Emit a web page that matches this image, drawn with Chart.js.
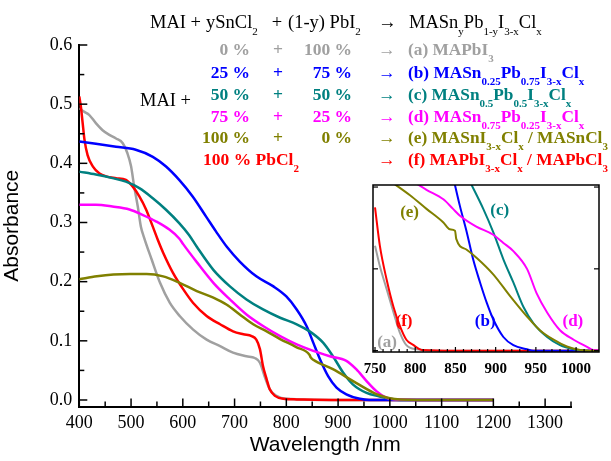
<!DOCTYPE html>
<html>
<head>
<meta charset="utf-8">
<script src="https://cdn.jsdelivr.net/npm/chart.js@4.4.0/dist/chart.umd.min.js"></script>
<style>
  html, body { margin: 0; padding: 0; background: #fff; }
  #wrap { position: relative; width: 611px; height: 461px; }
  #mainBox { position: absolute; left: 0; top: 0; width: 611px; height: 461px; }
  #insetBox { position: absolute; left: 363px; top: 175px; width: 248px; height: 205px; }
</style>
</head>
<body>
<div id="wrap">
  <div id="mainBox"><canvas id="main" width="611" height="461"></canvas></div>
  <div id="insetBox"><canvas id="inset" width="248" height="205"></canvas></div>
</div>
<script>
// --- axis ticks ---
const xTicks = [400, 500, 600, 700, 800, 900, 1000, 1100, 1200, 1300];
const yTicks = [0, 0.1, 0.2, 0.3, 0.4, 0.5, 0.6];
const insetXTicks = [750, 800, 850, 900, 950, 1000];
const insetYTicks = [0, 0.06, 0.12];

// --- main spectra (wavelength nm / absorbance) ---
const wlA  = [400, 410, 419, 432, 445, 458, 471, 484, 493, 500, 506, 513, 519, 525, 540, 556, 575, 594, 620, 646, 672, 697, 723, 739, 749, 758, 768, 781, 800, 900, 1000, 1100, 1200];
const absA = [0.493, 0.487, 0.482, 0.468, 0.456, 0.448, 0.442, 0.434, 0.417, 0.395, 0.361, 0.327, 0.293, 0.275, 0.237, 0.198, 0.164, 0.142, 0.119, 0.102, 0.091, 0.080, 0.074, 0.071, 0.063, 0.040, 0.018, 0.007, 0.002, 0, 0, 0, 0];

const wlB  = [400, 432, 471, 509, 542, 567, 593, 619, 645, 664, 685, 710, 742, 775, 800, 820, 839, 852, 865, 881, 897, 916, 942, 960, 1000, 1100, 1200];
const absB = [0.437, 0.433, 0.428, 0.423, 0.411, 0.395, 0.372, 0.344, 0.310, 0.285, 0.259, 0.234, 0.209, 0.192, 0.175, 0.153, 0.125, 0.097, 0.069, 0.040, 0.021, 0.0096, 0.002, 0, 0, 0, 0];

const wlC  = [400, 432, 464, 490, 516, 542, 567, 593, 612, 627, 659, 691, 723, 755, 788, 820, 845, 871, 890, 910, 929, 955, 980, 1000, 1020, 1100, 1200];
const absC = [0.386, 0.381, 0.375, 0.369, 0.358, 0.341, 0.322, 0.299, 0.279, 0.259, 0.220, 0.192, 0.170, 0.153, 0.139, 0.128, 0.116, 0.097, 0.074, 0.046, 0.026, 0.012, 0.006, 0.002, 0, 0, 0];

const wlD  = [400, 432, 464, 497, 522, 548, 574, 593, 601, 627, 659, 691, 723, 755, 788, 820, 852, 884, 916, 935, 955, 974, 993, 1013, 1100, 1200];
const absD = [0.330, 0.330, 0.327, 0.322, 0.313, 0.302, 0.288, 0.273, 0.263, 0.233, 0.198, 0.170, 0.1445, 0.125, 0.108, 0.094, 0.083, 0.074, 0.066, 0.052, 0.032, 0.015, 0.004, 0.001, 0, 0];

const wlE  = [400, 434, 466, 498, 530, 562, 594, 627, 659, 685, 710, 736, 762, 788, 820, 845, 847, 852, 890, 929, 968, 980, 1000, 1020, 1100, 1200];
const absE = [0.204, 0.209, 0.212, 0.213, 0.213, 0.209, 0.198, 0.184, 0.173, 0.161, 0.1445, 0.128, 0.116, 0.103, 0.089, 0.076, 0.072, 0.068, 0.052, 0.032, 0.0125, 0.008, 0.003, 0.001, 0, 0];

const wlF  = [400, 403, 406.5, 410, 416, 426, 439, 452, 471, 490, 503, 516, 529, 542, 552, 562, 581, 601, 620, 646, 672, 697, 717, 733, 742, 749, 755, 762, 768, 778, 794, 820, 900, 1000, 1100, 1200];
const absF = [0.513, 0.496, 0.468, 0.440, 0.414, 0.395, 0.383, 0.378, 0.375, 0.372, 0.361, 0.344, 0.322, 0.293, 0.270, 0.249, 0.215, 0.187, 0.164, 0.142, 0.128, 0.116, 0.111, 0.108, 0.102, 0.086, 0.057, 0.035, 0.018, 0.007, 0.002, 0.001, 0, 0, 0, 0];

// --- inset (band edge zoom) ---
const inWlA  = [750, 756, 764.5, 773, 781, 789, 802, 830, 1030];
const inAbsA = [0.077, 0.062, 0.045, 0.028, 0.013, 0.004, 0.001, 0, 0];
const inWlF  = [750, 756, 764.5, 773, 781, 789, 798, 808, 850, 1030];
const inAbsF = [0.105, 0.077, 0.052, 0.032, 0.018, 0.008, 0.004, 0.0005, 0, 0];
const inWlB  = [848, 855.6, 864, 872, 880.6, 889, 897, 909.6, 922, 939, 947, 1030];
const inAbsB = [0.125, 0.106, 0.087, 0.067, 0.050, 0.035, 0.023, 0.010, 0.004, 0.001, 0, 0];
const inWlC  = [868, 884.6, 897, 909.6, 922, 934.6, 947, 964, 980, 997, 1013, 1030];
const inAbsC = [0.124, 0.104, 0.087, 0.067, 0.050, 0.032, 0.020, 0.010, 0.004, 0.001, 0, 0];
const inWlD  = [795, 814, 835, 847, 855.6, 876, 897, 909.6, 922, 939, 951, 964, 980, 997, 1013, 1021.5, 1030];
const inAbsD = [0.125, 0.118, 0.111, 0.104, 0.099, 0.091, 0.085, 0.079, 0.073, 0.060, 0.042, 0.028, 0.015, 0.008, 0.003, 0.0005, 0.0005];
const inWlE  = [770, 793.5, 814, 835, 843, 849.5, 851, 864, 876.5, 897, 918, 939, 955, 972, 988.6, 1005, 1021.5, 1030];
const inAbsE = [0.124, 0.114, 0.104, 0.094, 0.089, 0.088, 0.082, 0.074, 0.068, 0.056, 0.040, 0.025, 0.015, 0.008, 0.003, 0.0005, 0, 0];

// --- legend text ---
const seriesColors = ['#a0a0a0', '#0000ff', '#008080', '#ff00ff', '#808000', '#ff0000'];
const snShare = ['0 %', '25 %', '50 %', '75 %', '100 %', '100 % PbCl_{2}'];
const pbShare = ['100 %', '75 %', '50 %', '25 %', '0 %', ''];
const products = [
  '(a) MAPbI_{3}',
  '(b) MASn_{0.25}Pb_{0.75}I_{3-x}Cl_{x}',
  '(c) MASn_{0.5}Pb_{0.5}I_{3-x}Cl_{x}',
  '(d) MASn_{0.75}Pb_{0.25}I_{3-x}Cl_{x}',
  '(e) MASnI_{3-x}Cl_{x} / MASnCl_{3}',
  '(f) MAPbI_{3-x}Cl_{x} / MAPbCl_{3}'
];
const insetTags = ['(a)', '(b)', '(c)', '(d)', '(e)', '(f)'];
const insetTagWl = [765, 887, 905, 996, 793, 786];
const insetTagAbs = [0.006, 0.021, 0.103, 0.021, 0.101, 0.021];

const SERIF = '"Liberation Serif", "Times New Roman", serif';
const SANS = '"Liberation Sans", Arial, sans-serif';

function toXY(wl, ab) { return wl.map((w, i) => ({ x: w, y: ab[i] })); }

// text with _{...} subscripts
function richParts(str) {
  const parts = []; const re = /_\{([^}]*)\}/g; let last = 0, m;
  while ((m = re.exec(str))) {
    if (m.index > last) parts.push([str.slice(last, m.index), false]);
    parts.push([m[1], true]);
    last = re.lastIndex;
  }
  if (last < str.length) parts.push([str.slice(last), false]);
  return parts;
}
function drawRich(ctx, str, x, y, size, weight, color, align) {
  const parts = richParts(str);
  const sub = Math.round(size * 0.62);
  const font = s => weight + ' ' + s + 'px ' + SERIF;
  let w = 0;
  parts.forEach(([t, s]) => { ctx.font = font(s ? sub : size); w += ctx.measureText(t).width; });
  let cx = align === 'right' ? x - w : align === 'center' ? x - w / 2 : x;
  ctx.fillStyle = color; ctx.textAlign = 'left'; ctx.textBaseline = 'alphabetic';
  parts.forEach(([t, s]) => {
    ctx.font = font(s ? sub : size);
    ctx.fillText(t, cx, s ? y + size * 0.38 : y);
    cx += ctx.measureText(t).width;
  });
}

// ticks drawn inside the frame, like the origin plot
function inwardTicks(cfg) {
  return {
    id: 'inwardTicks',
    afterDraw(chart) {
      const { ctx, chartArea: a, scales: { x, y } } = chart;
      ctx.save();
      ctx.strokeStyle = '#000'; ctx.lineWidth = cfg.width;
      const seg = (x1, y1, x2, y2) => { ctx.beginPath(); ctx.moveTo(x1, y1); ctx.lineTo(x2, y2); ctx.stroke(); };
      cfg.xMinor.forEach(v => { const p = x.getPixelForValue(v); seg(p, a.bottom, p, a.bottom - cfg.minor); });
      cfg.xMajor.forEach(v => { const p = x.getPixelForValue(v); seg(p, a.bottom, p, a.bottom - cfg.major); });
      cfg.yMinor.forEach(v => { const p = y.getPixelForValue(v); seg(a.left, p, a.left + cfg.minor, p); });
      cfg.yMajor.forEach(v => {
        const p = y.getPixelForValue(v);
        seg(a.left, p, a.left + cfg.major, p);
        if (cfg.box) seg(a.right, p, a.right - cfg.major, p);
      });
      ctx.restore();
    }
  };
}

const lineStyle = (data, color, order, w) => ({
  data, borderColor: color, borderWidth: w, pointRadius: 0,
  fill: false, cubicInterpolationMode: 'monotone', order
});

// --- main chart ---
const mainChart = new Chart(document.getElementById('main'), {
  type: 'line',
  data: {
    datasets: [
      lineStyle(toXY(wlA, absA), seriesColors[0], 6, 2.5),
      lineStyle(toXY(wlB, absB), seriesColors[1], 4, 2.5),
      lineStyle(toXY(wlC, absC), seriesColors[2], 3, 2.5),
      lineStyle(toXY(wlD, absD), seriesColors[3], 2, 2.5),
      lineStyle(toXY(wlE, absE), seriesColors[4], 1, 2.5),
      lineStyle(toXY(wlF, absF), seriesColors[5], 5, 2.5)
    ]
  },
  options: {
    responsive: false,
    animation: false,
    devicePixelRatio: 1,
    layout: { padding: { top: 45, right: 40, left: 0, bottom: 0 } },
    plugins: { legend: { display: false }, tooltip: { enabled: false } },
    scales: {
      x: {
        type: 'linear', min: 400, max: 1350,
        afterBuildTicks: s => { s.ticks = xTicks.map(v => ({ value: v })); },
        afterFit: s => { s.height = 54.5; },
        grid: { display: false, drawTicks: false },
        border: { display: true, color: '#000', width: 2 },
        ticks: { padding: 6, color: '#000', font: { family: SERIF, size: 18 }, maxRotation: 0, callback: v => String(v) },
        title: { display: true, text: 'Wavelength /nm', color: '#000', font: { family: SANS, size: 21 }, padding: { top: 0, bottom: 3 } }
      },
      y: {
        min: -0.011, max: 0.6,
        afterBuildTicks: s => { s.ticks = yTicks.map(v => ({ value: v })); },
        afterFit: s => { s.width = 79.3; },
        grid: { display: false, drawTicks: false },
        border: { display: true, color: '#000', width: 2 },
        ticks: { padding: 7, color: '#000', font: { family: SERIF, size: 18 }, callback: v => v.toFixed(1) },
        title: { display: true, text: 'Absorbance', color: '#000', font: { family: SANS, size: 21 }, padding: { top: 0, bottom: 4 } }
      }
    }
  },
  plugins: [inwardTicks({
    width: 1.5, major: 8, minor: 5,
    xMajor: xTicks, xMinor: xTicks.map(v => v + 50),
    yMajor: yTicks, yMinor: yTicks.slice(0, -1).map(v => v + 0.05),
    box: false
  }), {
    id: 'reactionText',
    afterDraw(chart) {
      const ctx = chart.ctx;
      ctx.save();
      // header line
      drawRich(ctx, 'MAI +', 150, 28, 18.5, 'normal', '#000', 'left');
      drawRich(ctx, 'ySnCl_{2}', 206, 28, 18.5, 'normal', '#000', 'left');
      drawRich(ctx, '+', 277, 28, 18.5, 'normal', '#000', 'center');
      drawRich(ctx, '(1-y) PbI_{2}', 288, 28, 18.5, 'normal', '#000', 'left');
      drawRich(ctx, '\u2192', 378, 28, 18.5, 'normal', '#000', 'left');
      drawRich(ctx, 'MASn_{y}Pb_{1-y}I_{3-x}Cl_{x}', 409, 28, 18.5, 'normal', '#000', 'left');
      drawRich(ctx, 'MAI +', 140, 106, 18.5, 'normal', '#000', 'left');
      const rowY = [55, 78, 100, 122, 143, 165];
      rowY.forEach((yy, i) => {
        const c = seriesColors[i];
        if (pbShare[i]) {
          drawRich(ctx, snShare[i], 250, yy, 17.5, 'bold', c, 'right');
          drawRich(ctx, '+', 278, yy, 17.5, 'bold', c, 'center');
          drawRich(ctx, pbShare[i], 352, yy, 17.5, 'bold', c, 'right');
        } else {
          drawRich(ctx, snShare[i], 203, yy, 17.5, 'bold', c, 'left');
        }
        drawRich(ctx, '\u2192', 378, yy, 17.5, 'bold', c, 'left');
        drawRich(ctx, products[i], 408, yy, 17.3, 'bold', c, 'left');
      });
      ctx.restore();
    }
  }]
});

// --- inset chart ---
const insetChart = new Chart(document.getElementById('inset'), {
  type: 'line',
  data: {
    datasets: [
      lineStyle(toXY(inWlA, inAbsA), seriesColors[0], 6, 2),
      lineStyle(toXY(inWlB, inAbsB), seriesColors[1], 4, 2),
      lineStyle(toXY(inWlC, inAbsC), seriesColors[2], 3, 2),
      lineStyle(toXY(inWlD, inAbsD), seriesColors[3], 2, 2),
      lineStyle(toXY(inWlE, inAbsE), seriesColors[4], 1, 2),
      lineStyle(toXY(inWlF, inAbsF), seriesColors[5], 5, 2)
    ]
  },
  options: {
    responsive: false,
    animation: false,
    devicePixelRatio: 1,
    layout: { padding: { left: 10, top: 10, right: 12, bottom: 28 } },
    plugins: { legend: { display: false }, tooltip: { enabled: false } },
    scales: {
      x: { type: 'linear', min: 747.5, max: 1028.5, display: false },
      y: { min: -0.001, max: 0.1215, display: false }
    }
  },
  plugins: [{
    id: 'insetFrame',
    beforeDatasetsDraw(chart) {
      const { ctx, chartArea: a } = chart;
      ctx.save(); ctx.fillStyle = '#fff';
      ctx.fillRect(a.left, a.top, a.width, a.height);
      ctx.restore();
    },
    afterDraw(chart) {
      const { ctx, chartArea: a, scales: { x, y } } = chart;
      ctx.save();
      ctx.strokeStyle = '#000'; ctx.lineWidth = 1.5;
      ctx.strokeRect(a.left, a.top, a.width, a.height);
      ctx.fillStyle = '#000'; ctx.font = 'bold 15px ' + SERIF;
      ctx.textAlign = 'center'; ctx.textBaseline = 'middle';
      insetXTicks.forEach(v => ctx.fillText(String(v), x.getPixelForValue(v), a.bottom + 17));
      insetTags.forEach((t, i) => {
        ctx.fillStyle = seriesColors[i];
        ctx.font = 'bold 17px ' + SERIF;
        ctx.fillText(t, x.getPixelForValue(insetTagWl[i]), y.getPixelForValue(insetTagAbs[i]));
      });
      ctx.restore();
    }
  }, inwardTicks({
    width: 1.2, major: 5, minor: 3,
    xMajor: insetXTicks,
    xMinor: [760, 770, 780, 790, 810, 820, 830, 840, 860, 870, 880, 890, 910, 920, 930, 940, 960, 970, 980, 990, 1010, 1020],
    yMajor: insetYTicks, yMinor: [], box: true
  })]
});
</script>
</body>
</html>
